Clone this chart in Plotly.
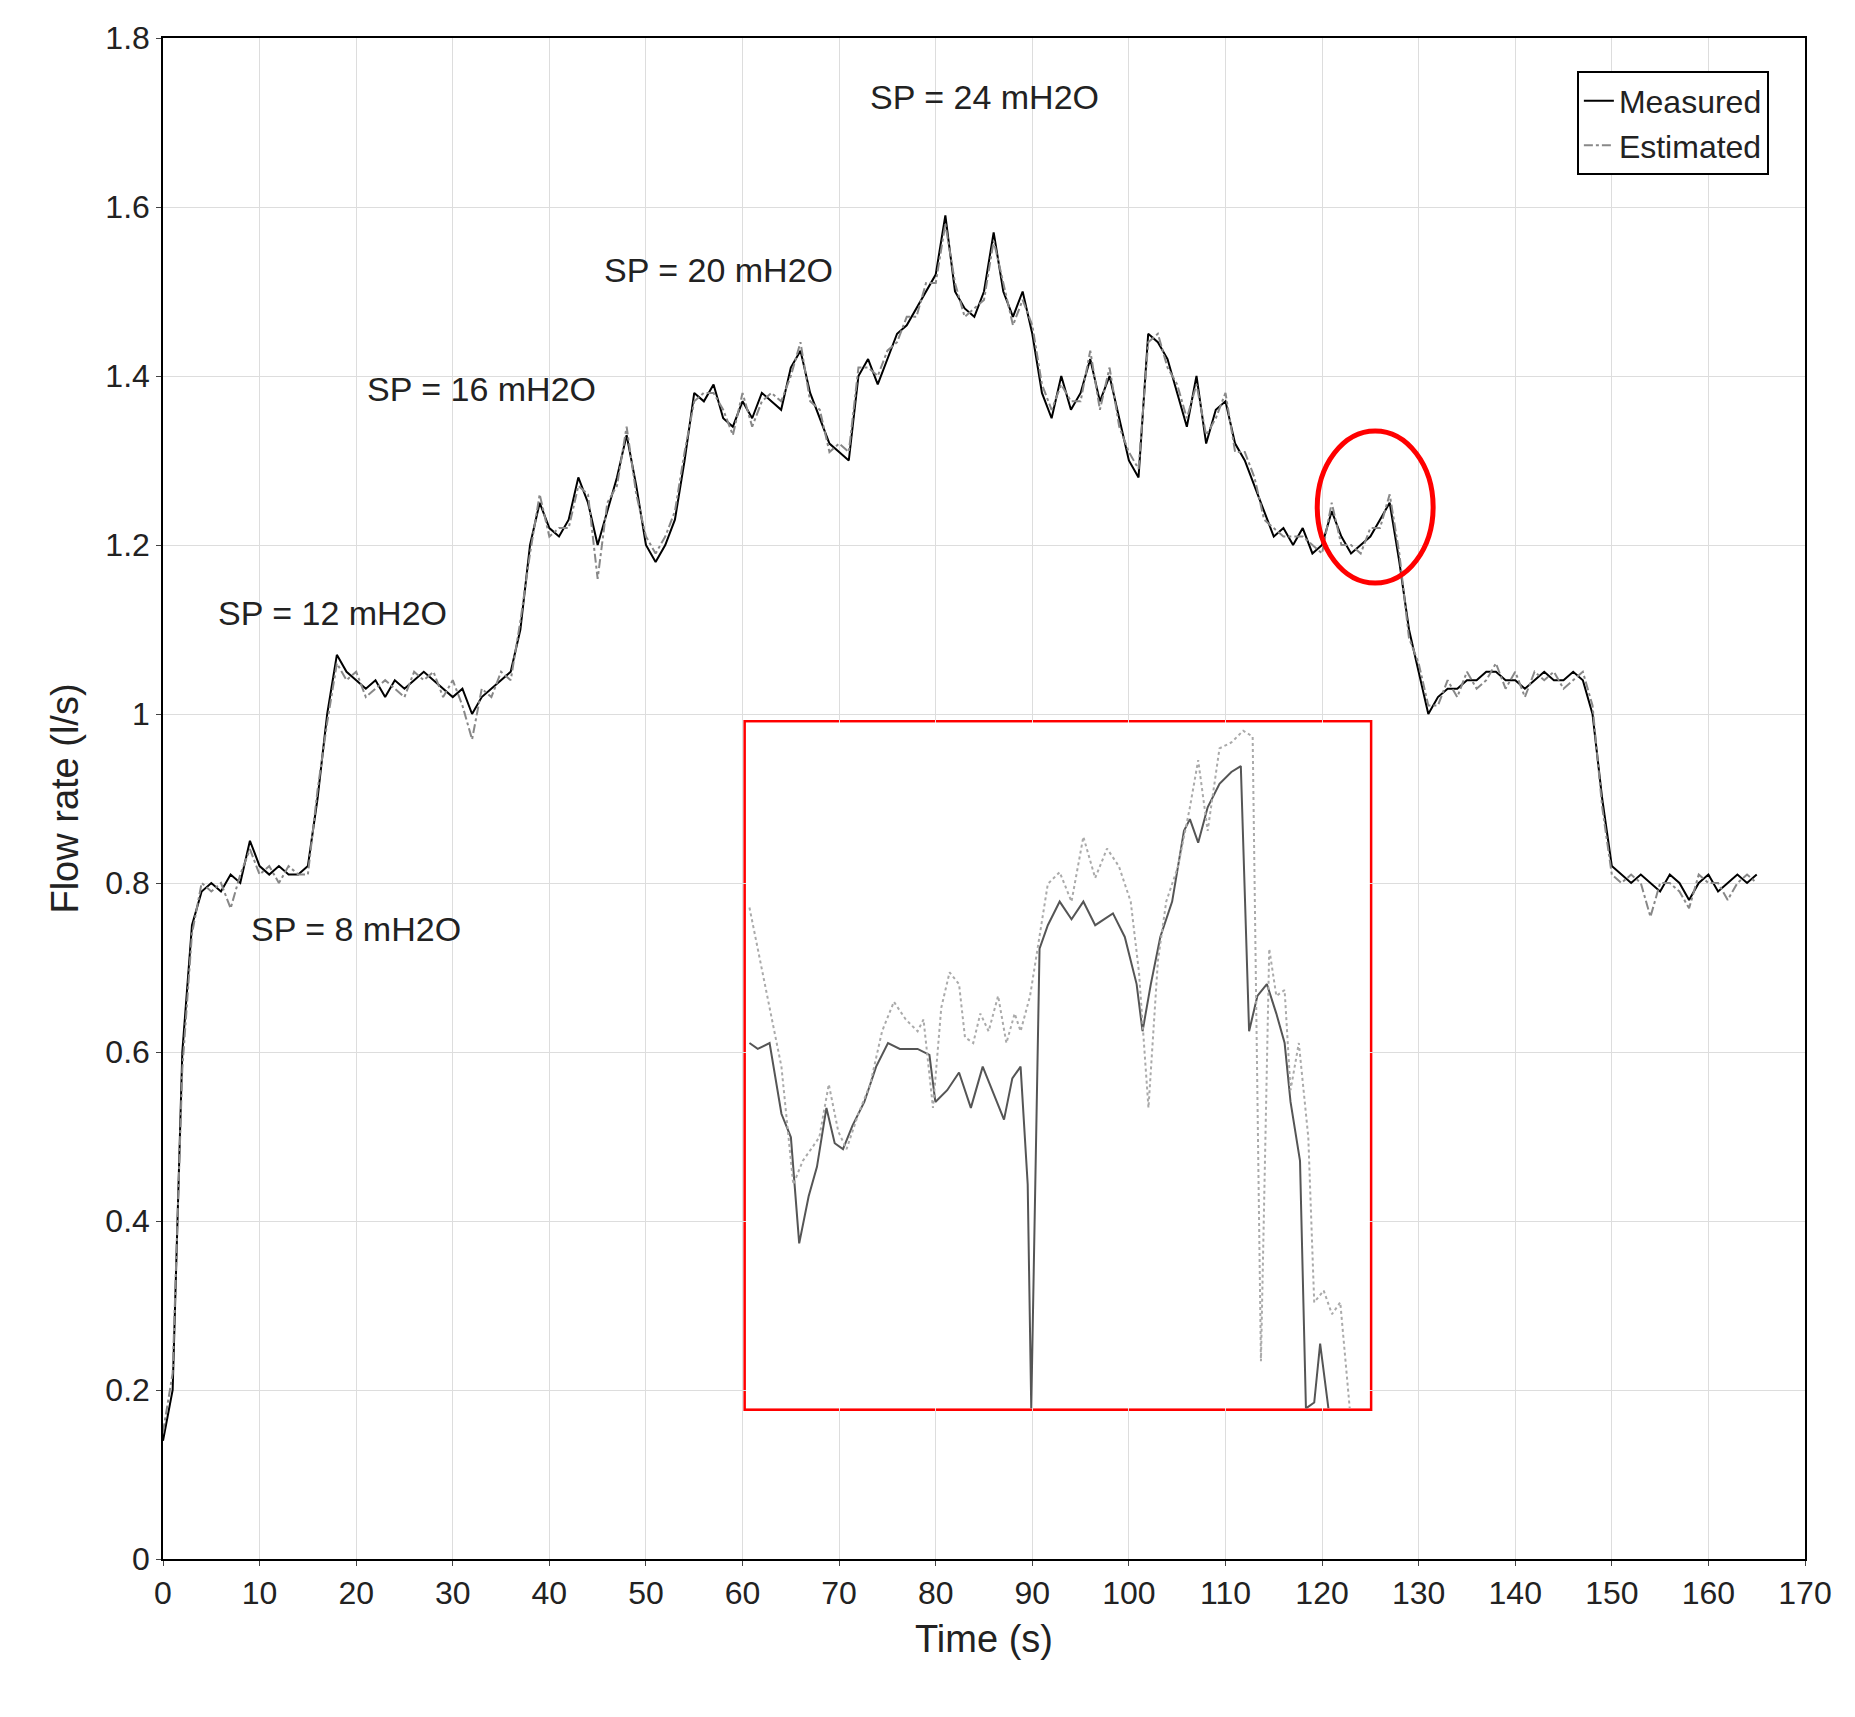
import plotly.graph_objects as go

t = list(range(0, 166))
measured = [0.14,0.2,0.6,0.75,0.79,0.80,0.79,0.81,0.80,0.85,0.82,0.81,0.82,0.81,0.81,0.82,0.90,1.00,1.07,1.05,
1.04,1.03,1.04,1.02,1.04,1.03,1.04,1.05,1.04,1.03,1.02,1.03,1.00,1.02,1.03,1.04,1.05,1.10,1.20,1.25,
1.22,1.21,1.23,1.28,1.25,1.20,1.24,1.28,1.33,1.27,1.20,1.18,1.20,1.23,1.30,1.38,1.37,1.39,1.35,1.34,
1.37,1.35,1.38,1.37,1.36,1.41,1.43,1.38,1.35,1.32,1.31,1.30,1.40,1.42,1.39,1.42,1.45,1.46,1.48,1.50,
1.52,1.59,1.50,1.48,1.47,1.50,1.57,1.50,1.47,1.50,1.45,1.38,1.35,1.40,1.36,1.38,1.42,1.37,1.40,1.35,
1.30,1.28,1.45,1.44,1.42,1.38,1.34,1.40,1.32,1.36,1.37,1.32,1.30,1.27,1.24,1.21,1.22,1.20,1.22,1.19,
1.20,1.24,1.21,1.19,1.20,1.21,1.23,1.25,1.18,1.10,1.05,1.00,1.02,1.03,1.03,1.04,1.04,1.05,1.05,1.04,
1.04,1.03,1.04,1.05,1.04,1.04,1.05,1.04,1.00,0.90,0.82,0.81,0.80,0.81,0.80,0.79,0.81,0.80,0.78,0.80,
0.81,0.79,0.80,0.81,0.80,0.81]
estimated = [0.15,0.22,0.58,0.74,0.80,0.79,0.80,0.77,0.81,0.84,0.81,0.82,0.80,0.82,0.81,0.81,0.91,0.99,1.06,1.04,
1.05,1.02,1.03,1.04,1.03,1.02,1.05,1.04,1.05,1.02,1.04,1.01,0.97,1.03,1.02,1.05,1.04,1.11,1.19,1.26,
1.21,1.22,1.22,1.27,1.26,1.16,1.25,1.27,1.34,1.26,1.21,1.19,1.21,1.24,1.31,1.37,1.38,1.38,1.36,1.33,
1.38,1.34,1.37,1.38,1.37,1.40,1.44,1.37,1.36,1.31,1.32,1.31,1.41,1.41,1.40,1.43,1.44,1.47,1.47,1.51,
1.51,1.58,1.51,1.47,1.48,1.49,1.56,1.51,1.46,1.49,1.46,1.39,1.36,1.39,1.37,1.37,1.43,1.36,1.41,1.34,
1.31,1.29,1.44,1.45,1.41,1.39,1.35,1.39,1.33,1.35,1.38,1.31,1.31,1.28,1.23,1.22,1.21,1.21,1.21,1.20,
1.19,1.25,1.20,1.20,1.19,1.22,1.22,1.26,1.19,1.09,1.06,1.01,1.01,1.04,1.02,1.05,1.03,1.04,1.06,1.03,
1.05,1.02,1.05,1.04,1.05,1.03,1.04,1.05,1.01,0.89,0.81,0.80,0.81,0.80,0.76,0.80,0.80,0.79,0.77,0.81,
0.80,0.80,0.78,0.80,0.81,0.80]

inset_meas_x = [633,640,650,660,668,675,683,690,698,705,712,720,730,740,750,760,775,785,790,800,810,820,830,840,848,855,862,868,871,878,885,895,905,915,925,940,950,960,965,972,980,990,1000,1005,1012,1020,1030,1040,1048,1055,1062,1070,1078,1085,1090,1098,1103,1110,1115,1122]
inset_meas_y = [310,305,310,250,230,140,180,205,255,225,220,240,260,290,310,305,305,300,260,270,285,255,290,265,245,280,290,190,0,390,410,430,415,430,410,420,400,360,320,360,400,430,490,500,480,510,530,540,545,320,350,360,335,310,260,210,0,5,55,0]
inset_est_x = [633,640,650,660,670,678,685,692,700,708,715,725,735,745,755,765,775,780,788,795,802,810,815,822,828,835,843,850,857,862,870,878,885,895,905,915,925,935,945,955,962,970,978,985,995,1005,1012,1020,1030,1040,1050,1058,1065,1072,1078,1085,1090,1097,1105,1110,1118,1125,1132,1140]
inset_est_y = [425,390,340,290,190,210,220,230,275,235,220,250,275,320,345,330,320,330,255,340,370,360,315,310,335,320,350,310,335,320,350,400,445,455,430,485,450,475,460,430,370,255,380,430,460,510,550,490,560,565,575,570,40,390,350,355,270,310,230,90,100,80,90,0]

ff = "Liberation Sans"
fig = go.Figure()
fig.add_trace(go.Scatter(x=t, y=measured, mode="lines", name="Measured",
                         line=dict(color="black", width=2)))
fig.add_trace(go.Scatter(x=t, y=estimated, mode="lines", name="Estimated",
                         line=dict(color="#888888", width=2, dash="dashdot")))
fig.add_trace(go.Scatter(x=inset_meas_x, y=inset_meas_y, mode="lines", showlegend=False,
                         xaxis="x2", yaxis="y2", line=dict(color="#555555", width=2)))
fig.add_trace(go.Scatter(x=inset_est_x, y=inset_est_y, mode="lines", showlegend=False,
                         xaxis="x2", yaxis="y2", line=dict(color="#aaaaaa", width=2, dash="dot")))

ax = dict(showline=True, linecolor="black", linewidth=1.5, mirror=True, ticks="outside",
          gridcolor="#dddddd", zeroline=False, tickfont=dict(size=32, family=ff, color="#222"))
fig.update_layout(
    width=1855, height=1717, plot_bgcolor="white", paper_bgcolor="white",
    margin=dict(l=155, r=58, t=27, b=166),
    xaxis=dict(ax, range=[0, 170], dtick=10, title=dict(text="Time (s)", font=dict(size=38, family=ff, color="#222"))),
    yaxis=dict(ax, range=[0, 1.8], dtick=0.2, title=dict(text="Flow rate (l/s)", font=dict(size=38, family=ff, color="#222"))),
    xaxis2=dict(domain=[0.355, 0.735], anchor="y2", range=[630, 1157], visible=False),
    yaxis2=dict(domain=[0.099, 0.55], anchor="x2", range=[0, 582], visible=False),
    legend=dict(x=0.978, y=0.978, xanchor="right", yanchor="top", bordercolor="black", borderwidth=2,
                bgcolor="white", font=dict(size=32, family=ff, color="#222")),
)
shapes = [
    dict(type="rect", xref="x2 domain", yref="y2 domain", x0=0, x1=1, y0=0, y1=1,
         line=dict(color="red", width=5), fillcolor="rgba(255,255,255,1)", layer="below"),
    dict(type="circle", xref="x", yref="y", x0=119.5, x1=131.5, y0=1.155, y1=1.335,
         line=dict(color="red", width=5)),
]
fig.update_layout(shapes=shapes)
for txt, x, y in [("SP = 24 mH2O", 85, 1.73), ("SP = 20 mH2O", 57.5, 1.525), ("SP = 16 mH2O", 33, 1.385),
                  ("SP = 12 mH2O", 17.5, 1.12), ("SP = 8 mH2O", 20, 0.745)]:
    fig.add_annotation(x=x, y=y, text=txt, showarrow=False, font=dict(size=34, family=ff, color="#222"))
fig.write_html("out.html")
